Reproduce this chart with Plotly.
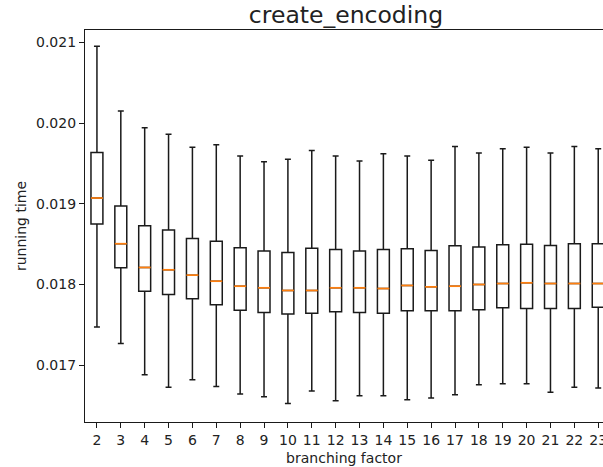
import plotly.graph_objects as go

# ---- data ----
branching = list(range(2, 24))
upper_whisker = [0.02095, 0.02015, 0.01994, 0.01986, 0.01970, 0.01973, 0.01959, 0.01952,
                 0.01955, 0.01966, 0.01959, 0.01953, 0.01962, 0.01959, 0.01954, 0.01971,
                 0.01963, 0.01968, 0.01970, 0.01963, 0.01971, 0.01968]
q3 = [0.019634, 0.018971, 0.018728, 0.018674, 0.018571, 0.018537, 0.018455, 0.018414,
      0.018397, 0.018450, 0.018434, 0.018414, 0.018434, 0.018443, 0.018422, 0.018480,
      0.018463, 0.018492, 0.018500, 0.018484, 0.018505, 0.018505]
median = [0.019071, 0.018505, 0.018211, 0.018182, 0.018116, 0.018041, 0.017979, 0.017959,
          0.017926, 0.017926, 0.017959, 0.017959, 0.017950, 0.017988, 0.017971, 0.017979,
          0.018000, 0.018012, 0.018021, 0.018012, 0.018012, 0.018012]
q1 = [0.018748, 0.018207, 0.017917, 0.017876, 0.017822, 0.017748, 0.017681, 0.017653,
      0.017636, 0.017644, 0.017661, 0.017653, 0.017644, 0.017674, 0.017674, 0.017674,
      0.017686, 0.017711, 0.017702, 0.017702, 0.017702, 0.017719]
lower_whisker = [0.017475, 0.017268, 0.016883, 0.016726, 0.016821, 0.016738, 0.016644, 0.016610,
                 0.016527, 0.016681, 0.016561, 0.016623, 0.016623, 0.016573, 0.016594, 0.016635,
                 0.016759, 0.016772, 0.016772, 0.016664, 0.016726, 0.016718]
y_ticks = [0.017, 0.018, 0.019, 0.020, 0.021]

BOX_W = 0.5
FONT = "DejaVu Sans"
INK = "#1a1a1a"
TXT = "#222"

fig = go.Figure()
fig.add_trace(go.Box(
    x=branching, q1=q1, median=median, q3=q3,
    lowerfence=lower_whisker, upperfence=upper_whisker,
    width=BOX_W, whiskerwidth=0.5,
    line=dict(color=INK, width=1.5),
    fillcolor="rgba(0,0,0,0)",
    boxpoints=False, showlegend=False, hoverinfo="skip",
))

# orange median lines, derived from the data
mx, my = [], []
for b, m in zip(branching, median):
    mx += [b - BOX_W / 2, b + BOX_W / 2, None]
    my += [m, m, None]
fig.add_trace(go.Scatter(x=mx, y=my, mode="lines",
                         line=dict(color="#ff7f0e", width=1.7),
                         showlegend=False, hoverinfo="skip"))

fig.update_layout(
    width=603, height=467,
    margin=dict(l=85, r=0, t=30, b=45),
    paper_bgcolor="white", plot_bgcolor="white",
    font=dict(family=FONT, size=14, color=TXT),
    title=dict(text="create_encoding", font=dict(family=FONT, size=23.5, color=TXT),
               x=(346 - 85) / 518, xref="paper", xanchor="center",
               y=1 - 15 / 467, yref="container", yanchor="middle"),
)
fig.update_xaxes(
    range=[1.5, 23.2], tickmode="array", tickvals=branching,
    ticktext=[str(b) for b in branching],
    showgrid=False, zeroline=False, automargin=False,
    showline=True, linecolor=INK, linewidth=1.2, mirror=True,
    ticks="outside", ticklen=5, tickcolor=INK, tickwidth=1.2,
    tickfont=dict(size=14, color=TXT), ticklabeloverflow="allow",
    title=dict(text="branching factor", standoff=6, font=dict(size=14, color=TXT)),
)
fig.update_yaxes(
    range=[0.016297, 0.021152], tickmode="array", tickvals=y_ticks,
    ticktext=[f"{v:.3f}" for v in y_ticks],
    showgrid=False, zeroline=False, automargin=False,
    showline=True, linecolor=INK, linewidth=1.2, mirror=False,
    ticks="outside", ticklen=5, tickcolor=INK, tickwidth=1.2,
    tickfont=dict(size=14, color=TXT),
    title=dict(text="running time", standoff=6, font=dict(size=14, color=TXT)),
)

fig.write_html("out.html", config={"displayModeBar": False},
               post_script="document.body.style.margin='0';document.body.style.overflow='hidden';")
